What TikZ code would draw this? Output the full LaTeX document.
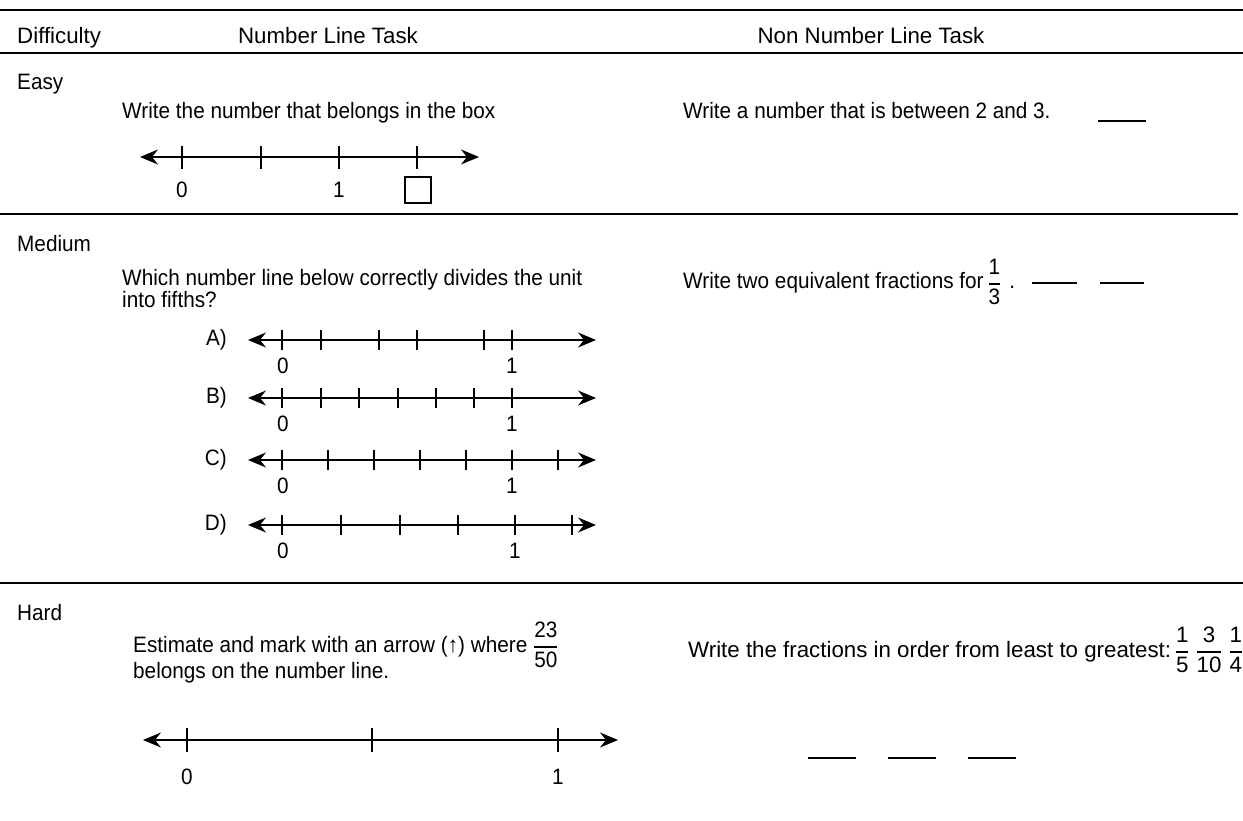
\documentclass[tikz,border=0pt]{standalone}
\usepackage{amsmath}
\usepackage{fontspec}
\setmainfont{Liberation Sans}[FakeStretch=0.93]
\newfontfamily\widefont{Liberation Sans}
\usetikzlibrary{arrows.meta}
\newcommand{\frc}[2]{\genfrac{}{}{1.4pt}{0}{\mbox{#1}}{\mbox{#2}}}

\begin{document}
\begin{tikzpicture}[x=1pt,y=-1pt,
        every node/.style={font=\fontsize{22.3}{26}\selectfont,inner sep=0pt},
        txt/.style={anchor=base west,align=left},
        head/.style={font=\widefont\fontsize{22.3}{26}\selectfont},
        rule/.style={line width=1.8pt},
        numline/.style={line width=1.6pt,{Stealth[length=18pt,width=15pt,inset=6pt]}-{Stealth[length=18pt,width=15pt,inset=6pt]}},
        tickmark/.style={line width=1.6pt},
        answerline/.style={line width=1.8pt}]

    \useasboundingbox (0,0) rectangle (1243,821);

    \draw[rule] (0,10) -- (1243,10);
    \draw[rule] (0,53) -- (1243,53);
    \draw[rule] (0,214) -- (1238,214);
    \draw[rule] (0,583) -- (1243,583);

    \node[txt,head] (diff) at (17,44) {Difficulty};
    \node[anchor=base,head] (nlt) at (328,44) {Number Line Task};
    \node[anchor=base,head] (nnlt) at (871,44) {Non Number Line Task};

    % easy
    \node[txt] (easy) at (17,90) {Easy};
    \node[txt] (easyq) at (122,119) {Write the number that belongs in the box};
    \coordinate (easyL) at (140,157);
    \coordinate (easyR) at (479,157);
    \draw[numline] (easyL) -- (easyR);
    \foreach \x in {182,261,339,417} \draw[tickmark] (\x,146) -- (\x,169);
    \node (easy0) at (182,190) {0};
    \node (easy1) at (339,190) {1};
    \node[draw,line width=1.4pt,minimum size=26pt] (box) at (418,190) {};
    \node[txt] (easyr) at (683,119) {Write a number that is between 2 and 3.};
    \draw[answerline] (1098,121) -- (1146,121);

    % medium
    \node[txt] (med) at (17,252) {Medium};
    \node[txt,font=\fontsize{22.3}{19}\selectfont] (medq) at (122,307) {Which number line below correctly divides the unit\\into fifths?};
    \foreach \lab/\y/\ticks/\one in {A/340/{282,321,379,417,484,512}/512,
                                     B/398/{282,321,359,398,436,474,512}/512,
                                     C/460/{282,328,374,420,466,512,558}/512,
                                     D/525/{282,341,400,458,515,572}/515} {
        \node[anchor=east] (lab\lab) at (227,\y) {\lab)};
        \coordinate (L\lab) at (248,\y);
        \coordinate (R\lab) at (596,\y);
        \draw[numline] (L\lab) -- (R\lab);
        \foreach \x in \ticks \draw[tickmark] (\x,\y-10) -- (\x,\y+10);
        \node (\lab0) at (283,\y+26) {0};
        \node (\lab1) at (\one,\y+26) {1};
    }
    \node[txt] (medr) at (683,289) {Write two equivalent fractions for\,$\frc{1}{3}$\hspace{8pt}.};
    \draw[answerline] (1032,283) -- (1077,283);
    \draw[answerline] (1100,283) -- (1144,283);

    % hard
    \node[txt] (hard) at (17,620) {Hard};
    \node[txt] (hardq) at (133,678) {Estimate and mark with an arrow (↑) where \smash{$\frc{23}{50}$}\\belongs on the number line.};
    \coordinate (hardL) at (143,740);
    \coordinate (hardR) at (618,740);
    \draw[numline] (hardL) -- (hardR);
    \foreach \x in {187,372,558} \draw[tickmark] (\x,728) -- (\x,752);
    \node (hard0) at (187,777) {0};
    \node (hard1) at (558,777) {1};
    \node[txt,head] (hardr) at (688,657) {Write the fractions in order from least to greatest:\,\smash{$\frc15\;\frc{3}{10}\;\frc14$}};
    \draw[answerline] (808,758) -- (856,758);
    \draw[answerline] (888,758) -- (936,758);
    \draw[answerline] (968,758) -- (1016,758);
\end{tikzpicture}
\end{document}
